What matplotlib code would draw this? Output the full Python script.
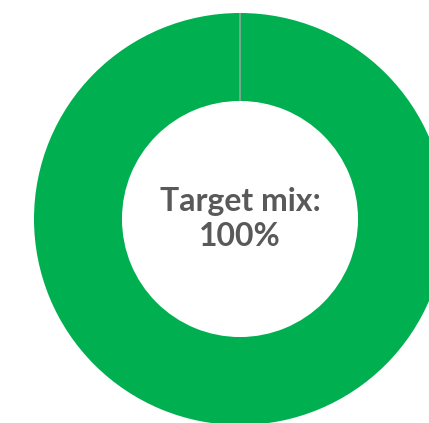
import matplotlib
matplotlib.use("Agg")
import matplotlib.pyplot as plt

# chart data
labels = ["Target mix", "Other"]
shares = [100, 0]
colors = ["#00B050", "#FFFFFF"]
center_label = "Target mix:\n100%"

fig = plt.figure(figsize=(4.29, 4.23), dpi=100)
ax = fig.add_axes([34 / 429, -2 / 423, 412 / 429, 412 / 423])

wedges, _ = ax.pie(shares, colors=colors, startangle=90, counterclock=False,
                   radius=1.0, wedgeprops=dict(width=0.427, linewidth=0))
# the empty slice shows up as a thin grey divider
wedges[1].set_edgecolor("#A6A6A6")
wedges[1].set_linewidth(1.0)

ax.text(0, 0.0, center_label, ha="center", va="center", fontsize=23,
        fontweight="bold", color="#595959", linespacing=1.25,
        family=["Lato", "DejaVu Sans"])

ax.set_xlim(-1, 1)
ax.set_ylim(-1, 1)
ax.set_aspect("equal")
ax.axis("off")

fig.savefig("out.png", dpi=100)
